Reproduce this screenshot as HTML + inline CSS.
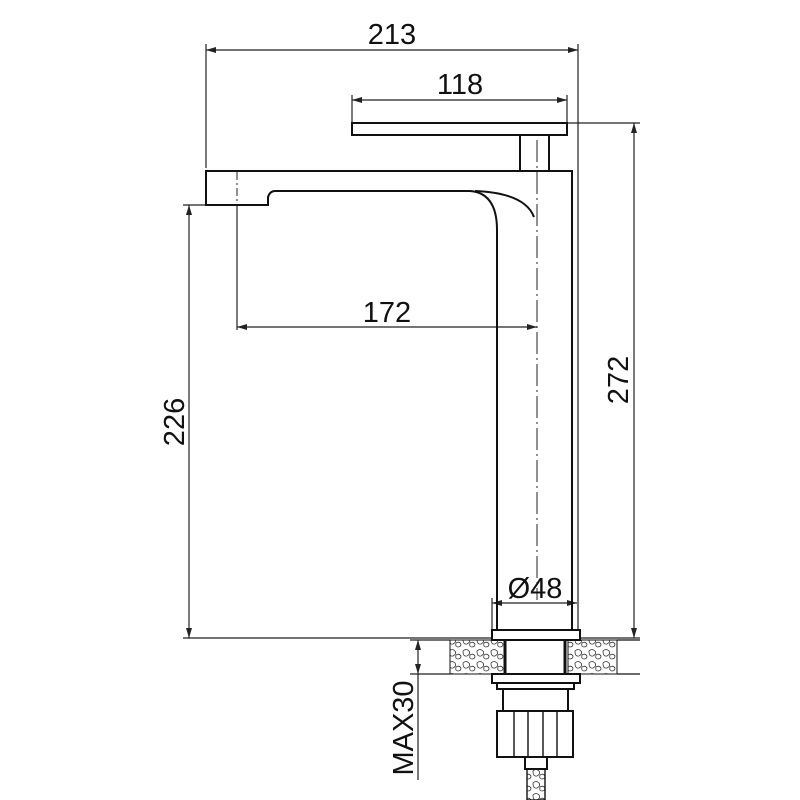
<!DOCTYPE html>
<html><head><style>body{margin:0;background:#fff}svg{display:block}</style></head><body>
<svg width="800" height="800" viewBox="0 0 800 800" xmlns="http://www.w3.org/2000/svg">
<defs>
<marker id="a" viewBox="0 0 10 6" refX="10" refY="3" markerWidth="10" markerHeight="6" orient="auto-start-reverse" markerUnits="userSpaceOnUse"><path d="M0,0L10,3L0,6z" fill="#222"/></marker>
<pattern id="st" width="14" height="12" patternUnits="userSpaceOnUse"><path d="M1,3q3-3 6,0q2,3-2,5q-4,1-4-5zM8,7q3-2 5,1q0,3-3,3q-3,0-2-4z" fill="none" stroke="#333" stroke-width="0.8"/></pattern>
</defs>
<g fill="none" stroke="#222" stroke-width="1.2">
<!-- extension lines -->
<line x1="206" y1="44" x2="206" y2="168"/>
<line x1="578" y1="44" x2="578" y2="630"/>
<line x1="352" y1="95" x2="352" y2="123"/>
<line x1="567" y1="95" x2="567" y2="123"/>
<line x1="567" y1="123" x2="640" y2="123"/>
<line x1="183" y1="205" x2="206" y2="205"/>
<line x1="183" y1="638" x2="492" y2="638"/>
<line x1="580" y1="638" x2="640" y2="638"/>
<line x1="410" y1="640" x2="450" y2="640"/>
<line x1="410" y1="674" x2="450" y2="674"/>
<line x1="237" y1="205" x2="237" y2="330"/>
<line x1="492" y1="598" x2="492" y2="630"/>
<!-- dims -->
<line x1="206" y1="50" x2="578" y2="50" marker-start="url(#a)" marker-end="url(#a)"/>
<line x1="352" y1="100" x2="567" y2="100" marker-start="url(#a)" marker-end="url(#a)"/>
<line x1="237" y1="327" x2="537" y2="327" marker-start="url(#a)" marker-end="url(#a)"/>
<line x1="634" y1="123" x2="634" y2="638" marker-start="url(#a)" marker-end="url(#a)"/>
<line x1="189" y1="205" x2="189" y2="638" marker-start="url(#a)" marker-end="url(#a)"/>
<line x1="492" y1="603" x2="577" y2="603" marker-start="url(#a)" marker-end="url(#a)"/>
<line x1="418" y1="640" x2="418" y2="674" marker-start="url(#a)" marker-end="url(#a)"/>
<line x1="418" y1="674" x2="418" y2="780"/>
<!-- centerlines -->
<line x1="537" y1="140" x2="537" y2="600" stroke-dasharray="22,4,2,4" stroke-width="1"/>
<line x1="237" y1="172" x2="237" y2="205" stroke-dasharray="8,3,2,3" stroke-width="1"/>
</g>
<g fill="none" stroke="#111" stroke-width="2">
<rect x="352" y="123" width="215" height="12"/>
<rect x="520" y="135" width="29" height="36"/>
<line x1="512" y1="171" x2="558" y2="171"/>
<path d="M206,171H572V630H497V230Q497,193 470,191H275Q270,191 268,197V205H206Z"/>
<path d="M475,191Q525,193 534,217"/>
<!-- base -->
<rect x="492" y="630" width="88" height="10"/>
<rect x="450" y="640" width="55" height="34" fill="url(#st)" stroke-width="1"/>
<rect x="568" y="640" width="49" height="34" fill="url(#st)" stroke-width="1"/>
<line x1="505" y1="640" x2="505" y2="674" stroke-width="3"/>
<line x1="565" y1="640" x2="565" y2="674" stroke-width="3"/>
<line x1="617" y1="640" x2="640" y2="640" stroke-width="1.2"/>
<line x1="617" y1="674" x2="640" y2="674" stroke-width="1.2"/>
<rect x="492" y="674" width="88" height="9"/>
<rect x="497" y="683" width="77" height="6"/>
<rect x="503" y="689" width="65" height="22"/>
<rect x="497" y="711" width="76" height="46"/>
<line x1="514" y1="711" x2="514" y2="757" stroke-width="1.4"/>
<line x1="528" y1="711" x2="528" y2="757" stroke-width="1.4"/>
<line x1="543" y1="711" x2="543" y2="757" stroke-width="1.4"/>
<line x1="557" y1="711" x2="557" y2="757" stroke-width="1.4"/>
<rect x="525" y="757" width="22" height="12"/>
<rect x="527" y="769" width="18" height="31" fill="url(#st)" stroke-width="1.4"/>
</g>
<g font-family="Liberation Sans, sans-serif" font-size="29" fill="#111" text-anchor="middle">
<text x="392" y="44">213</text>
<text x="460" y="94">118</text>
<text x="387" y="322">172</text>
<text x="535" y="598">Ø48</text>
<text transform="translate(628,380) rotate(-90)">272</text>
<text transform="translate(184,422) rotate(-90)">226</text>
<text transform="translate(413,728) rotate(-90)">MAX30</text>
</g>
</svg>
</body></html>
